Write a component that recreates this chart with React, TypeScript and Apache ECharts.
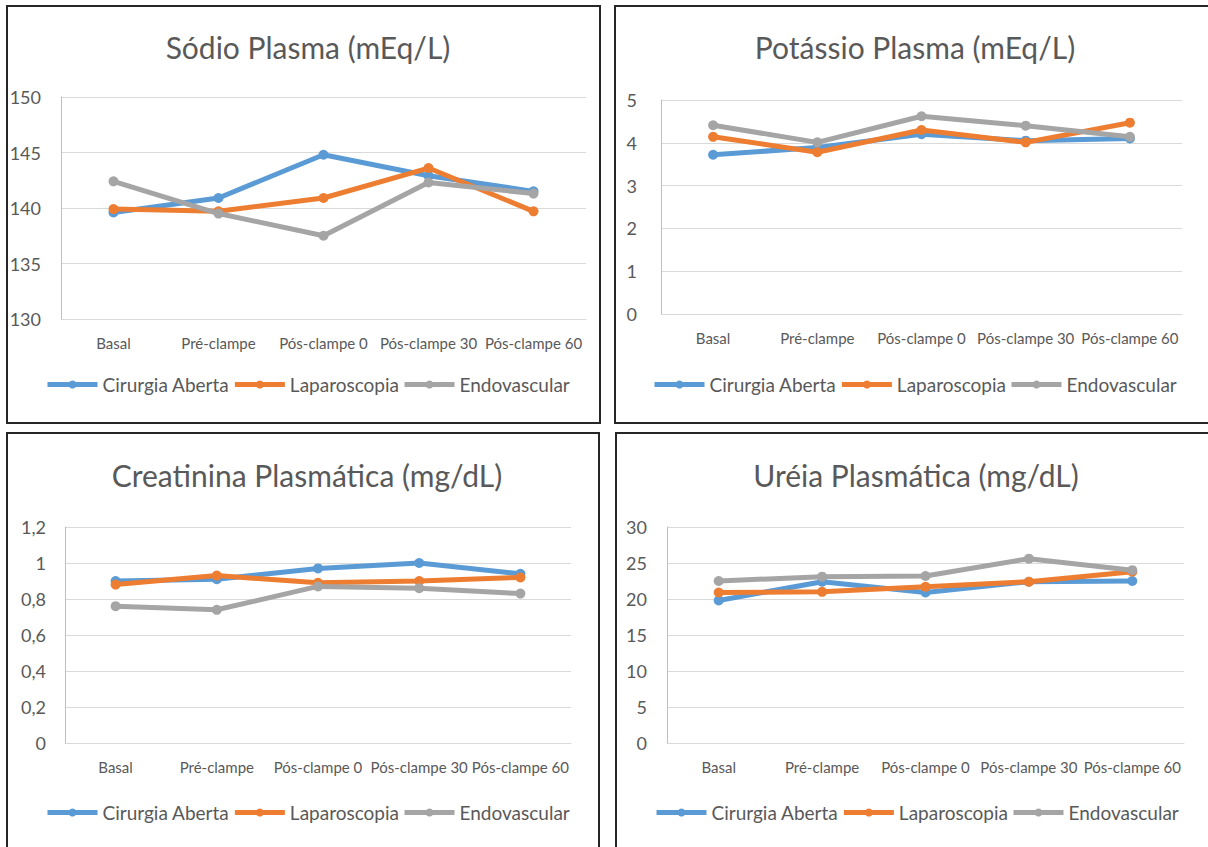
import React, { useEffect, useRef } from "react";
import * as echarts from "echarts";

const categories = ["Basal", "Pré-clampe", "Pós-clampe 0", "Pós-clampe 30", "Pós-clampe 60"];
const seriesNames = ["Cirurgia Aberta", "Laparoscopia", "Endovascular"];
const seriesColors = ["#5B9BD5", "#ED7D31", "#A5A5A5"];

// Sódio Plasma (mEq/L)
const sodioAberta = [139.6, 140.9, 144.8, 142.9, 141.5];
const sodioLaparo = [139.9, 139.7, 140.9, 143.6, 139.7];
const sodioEndo = [142.4, 139.5, 137.5, 142.3, 141.3];

// Potássio Plasma (mEq/L)
const potassioAberta = [3.72, 3.89, 4.2, 4.05, 4.1];
const potassioLaparo = [4.14, 3.78, 4.3, 4.01, 4.47];
const potassioEndo = [4.41, 4.01, 4.62, 4.4, 4.14];

// Creatinina Plasmática (mg/dL)
const creatAberta = [0.9, 0.91, 0.97, 1.0, 0.94];
const creatLaparo = [0.88, 0.93, 0.89, 0.9, 0.92];
const creatEndo = [0.76, 0.74, 0.87, 0.86, 0.83];

// Uréia Plasmática (mg/dL)
const ureiaAberta = [19.8, 22.4, 20.9, 22.4, 22.5];
const ureiaLaparo = [20.9, 21.0, 21.7, 22.4, 23.8];
const ureiaEndo = [22.5, 23.1, 23.2, 25.6, 24.0];

const titles = [
  "Sódio Plasma (mEq/L)",
  "Potássio Plasma (mEq/L)",
  "Creatinina Plasmática (mg/dL)",
  "Uréia Plasmática (mg/dL)",
];

const panelData = [
  [sodioAberta, sodioLaparo, sodioEndo],
  [potassioAberta, potassioLaparo, potassioEndo],
  [creatAberta, creatLaparo, creatEndo],
  [ureiaAberta, ureiaLaparo, ureiaEndo],
];

const axisRanges = [
  { min: 130, max: 150, interval: 5 },
  { min: 0, max: 5, interval: 1 },
  { min: 0, max: 1.2, interval: 0.2 },
  { min: 0, max: 30, interval: 5 },
];

// layout of the four framed panels
const panels = [
  { box: [7, 6, 593, 417], grid: { left: 61, top: 97, width: 525, height: 222 }, cx: 303, titleTop: 27, legendLeft: 45, legendTop: 375, labelMargin: 20 },
  { box: [615, 6, 600, 417], grid: { left: 661, top: 100, width: 521, height: 214 }, cx: 910, titleTop: 27, legendLeft: 652, legendTop: 375, labelMargin: 24 },
  { box: [7, 433, 592, 420], grid: { left: 65, top: 527, width: 506, height: 216 }, cx: 302, titleTop: 455, legendLeft: 45, legendTop: 803, labelMargin: 19 },
  { box: [616, 433, 600, 420], grid: { left: 667, top: 527, width: 517, height: 216 }, cx: 911, titleTop: 455, legendLeft: 654, legendTop: 803, labelMargin: 20 },
];

const FONT = "Lato, 'Open Sans', sans-serif";
const TEXT = "#595959";

export default function App() {
  const ref = useRef<HTMLDivElement>(null);

  useEffect(() => {
    if (!ref.current) return;
    const chart = echarts.init(ref.current, undefined, { renderer: "svg" });

    const fmt = (v: number) => String(Number(v.toFixed(2))).replace(".", ",");

    const option: any = {
      animation: false,
      backgroundColor: "#ffffff",
      textStyle: { fontFamily: FONT },
      title: panels.map((p, i) => ({
        text: titles[i],
        left: p.cx,
        top: p.titleTop,
        textAlign: "center",
        textStyle: { fontFamily: FONT, fontSize: 30, fontWeight: "normal", color: TEXT },
      })),
      legend: panels.map((p) => ({
        data: seriesNames,
        left: p.legendLeft,
        top: p.legendTop,
        padding: 0,
        orient: "horizontal",
        itemWidth: 50,
        itemHeight: 10,
        itemGap: 3,
        lineStyle: { width: 5 },
        textStyle: { fontFamily: FONT, fontSize: 19, color: TEXT },
        selectedMode: false,
      })),
      grid: panels.map((p) => ({ ...p.grid, containLabel: false })),
      xAxis: panels.map((_, i) => ({
        type: "category",
        gridIndex: i,
        data: categories,
        boundaryGap: true,
        axisLine: { show: true, lineStyle: { color: "#d9d9d9", width: 1 } },
        axisTick: { show: false },
        axisLabel: { color: TEXT, fontFamily: FONT, fontSize: 15, margin: 16, interval: 0 },
      })),
      yAxis: panels.map((p, i) => ({
        type: "value",
        gridIndex: i,
        min: axisRanges[i].min,
        max: axisRanges[i].max,
        interval: axisRanges[i].interval,
        axisLine: { show: true, lineStyle: { color: "#bfbfbf", width: 1 } },
        axisTick: { show: false },
        splitLine: { show: true, lineStyle: { color: "#d9d9d9", width: 1 } },
        axisLabel: {
          color: TEXT,
          fontFamily: FONT,
          fontSize: 18,
          margin: p.labelMargin,
          formatter: (v: number) => fmt(v),
        },
      })),
      series: panelData.flatMap((set, i) =>
        set.map((values, k) => ({
          name: seriesNames[k],
          type: "line",
          xAxisIndex: i,
          yAxisIndex: i,
          data: values,
          symbol: "circle",
          symbolSize: 10,
          color: seriesColors[k],
          lineStyle: { width: 5, color: seriesColors[k] },
          itemStyle: { color: seriesColors[k] },
          z: 2 + k,
        }))
      ),
      graphic: panels.map((p) => ({
        type: "rect",
        shape: { x: p.box[0], y: p.box[1], width: p.box[2], height: p.box[3] },
        style: { fill: "none", stroke: "#262626", lineWidth: 2 },
        silent: true,
        z: 100,
      })),
    };

    chart.setOption(option);
    return () => chart.dispose();
  }, []);

  return (
    <div
      ref={ref}
      style={{ position: "fixed", left: 0, top: 0, width: 1208, height: 847, background: "#fff" }}
    />
  );
}
